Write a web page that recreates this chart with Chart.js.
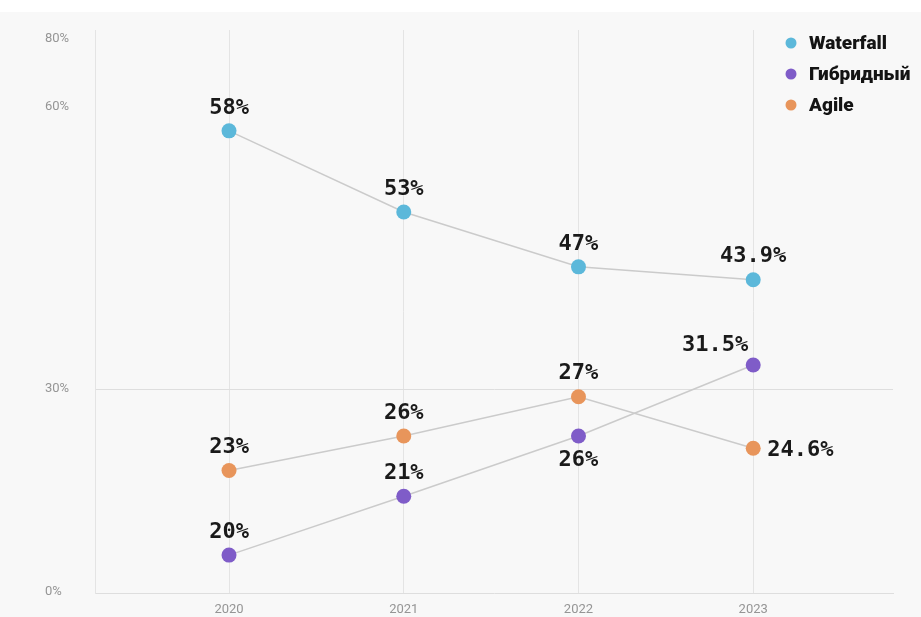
<!DOCTYPE html>
<html>
<head>
<meta charset="utf-8">
<script src="https://cdn.jsdelivr.net/npm/chart.js@4.4.1/dist/chart.umd.min.js"></script>
<style>
  html, body { margin: 0; padding: 0; background: #ffffff; }
  #wrap { width: 921px; height: 617px; position: relative; }
</style>
</head>
<body>
<div id="wrap"><canvas id="trendChart"></canvas></div>
<script>
// years on the x axis
const years = [2020, 2021, 2022, 2023];

// plotted positions (axis units, 30 = the 30% line)
const waterfall = [68.3, 56.3, 48.2, 46.3];
const hybrid = [5.6, 14.3, 23.2, 33.7];
const agile = [18.1, 23.2, 29.0, 21.4];

// the numbers printed next to the points
const waterfallLabels = ["58%", "53%", "47%", "43.9%"];
const hybridLabels = ["20%", "21%", "26%", "31.5%"];
const agileLabels = ["23%", "26%", "27%", "24.6%"];

// y axis ticks as they appear in the picture
const yTickValues = [0, 30, 71.7, 81.7];
const yTickLabels = ["0%", "30%", "60%", "80%"];

const toPoints = arr => arr.map((v, i) => ({ x: years[i], y: v }));

const background = {
    id: "background",
    beforeDraw(chart) {
        const c = chart.ctx;
        c.save();
        c.fillStyle = "#f8f8f8";
        c.fillRect(0, 12, chart.width, chart.height - 12);
        c.restore();
    }
};

const pointLabels = {
    id: "pointLabels",
    afterDatasetsDraw(chart) {
        const c = chart.ctx;
        c.save();
        c.font = "bold 22px 'DejaVu Sans Mono'";
        c.fillStyle = "#1a1a1a";
        chart.data.datasets.forEach((ds, di) => {
            chart.getDatasetMeta(di).data.forEach((pt, i) => {
                const place = ds.labelPlace[i];
                let x = pt.x, y = pt.y - 23;
                c.textAlign = "center";
                c.textBaseline = "middle";
                if (place === "bottom") y = pt.y + 24;
                if (place === "right") { x = pt.x + 14; y = pt.y + 2; c.textAlign = "left"; }
                if (place === "topleft") { x = pt.x - 38; y = pt.y - 20; }
                c.fillText(ds.valueLabels[i], x, y);
            });
        });
        c.restore();
    }
};

const legendBox = {
    id: "legendBox",
    afterDraw(chart) {
        const c = chart.ctx;
        c.save();
        c.font = "900 19px Roboto";
        c.textBaseline = "middle";
        c.textAlign = "left";
        chart.data.datasets.forEach((ds, i) => {
            const y = 43 + i * 31;
            c.beginPath();
            c.arc(791, y, 5.5, 0, Math.PI * 2);
            c.fillStyle = ds.pointBackgroundColor;
            c.fill();
            c.fillStyle = "#141414";
            c.fillText(ds.label, 809, y + 1);
        });
        c.restore();
    }
};

new Chart(document.getElementById("trendChart"), {
    type: "line",
    data: {
        datasets: [{
            label: "Waterfall",
            data: toPoints(waterfall),
            valueLabels: waterfallLabels,
            labelPlace: ["top", "top", "top", "top"],
            pointBackgroundColor: "#5cb8da"
        }, {
            label: "Гибридный",
            data: toPoints(hybrid),
            valueLabels: hybridLabels,
            labelPlace: ["top", "top", "bottom", "topleft"],
            pointBackgroundColor: "#7f5cc8"
        }, {
            label: "Agile",
            data: toPoints(agile),
            valueLabels: agileLabels,
            labelPlace: ["top", "top", "top", "right"],
            pointBackgroundColor: "#e8955b"
        }].map(ds => Object.assign(ds, {
            borderColor: "#cbcbcb",
            borderWidth: 1.5,
            pointRadius: 7.5,
            pointBorderWidth: 0,
            pointHoverRadius: 7.5,
            tension: 0
        }))
    },
    options: {
        responsive: true,
        maintainAspectRatio: false,
        animation: false,
        events: [],
        layout: { padding: { top: 30, right: 28, left: 45, bottom: 0 } },
        plugins: {
            legend: { display: false },
            tooltip: { enabled: false }
        },
        scales: {
            x: {
                type: "linear",
                min: 2019.233,
                max: 2023.8,
                afterBuildTicks: s => { s.ticks = years.map(v => ({ value: v })); },
                afterFit: s => { s.height = 24; },
                ticks: {
                    callback: v => String(v),
                    color: "#959595",
                    font: { family: "Roboto", size: 13 },
                    padding: 9
                },
                grid: { color: "#e4e4e4", drawTicks: false },
                border: { color: "#dedede" }
            },
            y: {
                min: 0,
                max: 83.2,
                afterBuildTicks: s => { s.ticks = yTickValues.map(v => ({ value: v })); },
                afterFit: s => { s.width = 50; },
                ticks: {
                    callback: (v, i) => yTickLabels[i],
                    color: "#959595",
                    font: { family: "Roboto", size: 13 },
                    crossAlign: "far",
                    labelOffset: -1
                },
                grid: {
                    color: ctx => ctx.tick && ctx.tick.value === 30 ? "#dedede" : "transparent",
                    drawTicks: false
                },
                border: { color: "#e4e4e4" }
            }
        }
    },
    plugins: [background, pointLabels, legendBox]
});
</script>
</body>
</html>
